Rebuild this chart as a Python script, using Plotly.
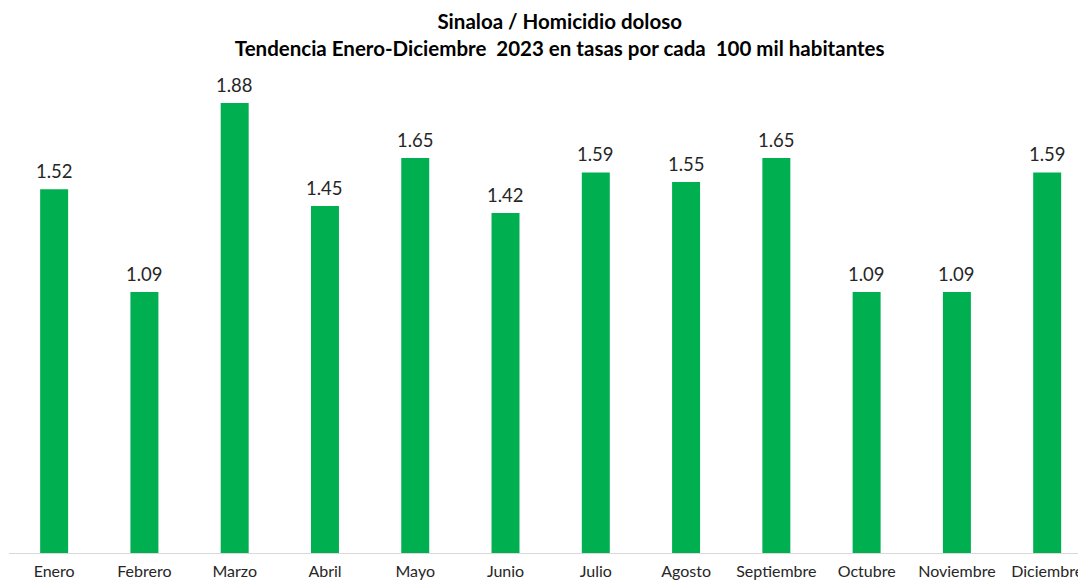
import plotly.graph_objects as go

months = ["Enero", "Febrero", "Marzo", "Abril", "Mayo", "Junio", "Julio",
          "Agosto", "Septiembre", "Octubre", "Noviembre", "Diciembre"]
rates = [1.52, 1.09, 1.88, 1.45, 1.65, 1.42, 1.59, 1.55, 1.65, 1.09, 1.09, 1.59]
value_labels = [f"{v:.2f}" for v in rates]

title_lines = ["Sinaloa / Homicidio doloso",
               "Tendencia Enero-Diciembre  2023 en tasas por cada  100 mil habitantes"]

FONT = "Lato"

fig = go.Figure(go.Bar(
    x=months, y=rates,
    marker=dict(color="#00B050", line=dict(width=0)),
    width=0.31,
    hoverinfo="x+y",
))

for m, v, lab in zip(months, rates, value_labels):
    fig.add_annotation(x=m, y=v, text=lab, showarrow=False,
                       yanchor="bottom", yshift=5,
                       font=dict(family=FONT, size=18.5, color="#262626"))

fig.update_layout(
    width=1086, height=581,
    margin=dict(l=1, r=8, t=72, b=36),
    paper_bgcolor="white", plot_bgcolor="white",
    showlegend=False,
    title=dict(text="<b>" + title_lines[0] + "</b><br><b>" + title_lines[1] + "</b>",
               x=0.508, xanchor="center", y=0.964, yanchor="top",
               font=dict(family=FONT, size=20.5, color="#000000")),
    xaxis=dict(type="category", range=[-0.5, 11.43], showline=True,
               linecolor="#d9d9d9", linewidth=1, ticks="outside", ticklen=4,
               tickcolor="rgba(0,0,0,0)",
               tickfont=dict(family=FONT, size=16, color="#262626"),
               showgrid=False, fixedrange=True),
    yaxis=dict(range=[0, 1.976], visible=False, showgrid=False, zeroline=False),
)

fig.write_html("out.html")
